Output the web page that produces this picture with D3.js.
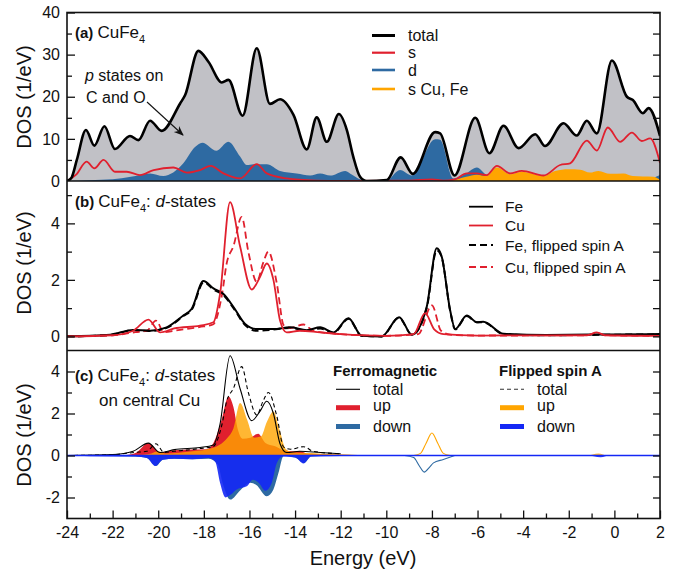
<!DOCTYPE html>
<html lang="en">
<head>
<meta charset="UTF-8">
<title>CuFe4 density of states</title>
<script src="https://d3js.org/d3.v7.min.js"></script>
<style>
  body { margin: 0; background: #fff; }
  svg text { font-family: "Liberation Sans", Arial, Helvetica, sans-serif; fill: #111; }
  .tick text { font-size: 16px; fill: #111; }
  .tick line { stroke: #111; stroke-width: 1.3; }
</style>
</head>
<body>
<div id="chart"></div>
<script>
// ---- axis ticks ----
const energyTicks = [-24, -22, -20, -18, -16, -14, -12, -10, -8, -6, -4, -2, 0, 2];
const energyMinor = [-23, -21, -19, -17, -15, -13, -11, -9, -7, -5, -3, -1, 1];
const aTicks = [0, 10, 20, 30, 40];
const aMinor = [5, 15, 25, 35];
const bTicks = [0, 2, 4];
const bMinor = [1, 3, 5];
const cTicks = [-2, 0, 2, 4];
const cMinor = [-1, 1, 3];

// ---- panel (a): total, s, d, s Cu/Fe  [energy, DOS] ----
const totalA = [[-24,0],[-23.8,0.8],[-23.57,5],[-23.17,12.1],[-22.8,8.4],[-22.36,13],[-21.9,7.6],[-21.24,10.7],[-20.87,9.7],[-20.36,14.3],[-19.85,11.9],[-19.04,18.4],[-18.82,20.4],[-18.24,30.9],[-17.8,28.3],[-17.21,23.4],[-16.92,24],[-16.3,15.5],[-15.68,31.5],[-15.1,18.3],[-14.66,19.4],[-14.07,15.7],[-13.49,7.5],[-13.05,15.1],[-12.61,9.3],[-12.08,15.9],[-11.73,12.1],[-11.45,5.8],[-11.15,1],[-10.86,0],[-9.98,0.2],[-9.37,5.6],[-8.84,1.7],[-7.86,11.6],[-7.64,11.3],[-7.01,1.3],[-6.1,15],[-5.48,6.6],[-4.86,13.1],[-4.2,7.8],[-3.47,11.1],[-3.04,8.3],[-2.23,13.7],[-1.65,10.8],[-1.21,14.3],[-0.77,11.3],[-0.11,28.6],[0.55,20],[0.81,19.2],[1.25,16.1],[1.5,17.3],[2,10.7]];
const sA = [[-24,0],[-23.6,1.5],[-23.14,4.6],[-22.8,3],[-22.4,5],[-21.9,2.2],[-21.38,2.2],[-20.8,1.4],[-20.2,2.6],[-19.34,3.2],[-18.75,2],[-18.17,2.6],[-17.7,3.6],[-17.14,1.8],[-16.41,0.6],[-15.68,4],[-15.24,1.8],[-14.37,0.6],[-13.05,0.1],[-12,0],[-9,0.1],[-8,0.4],[-7.5,0.1],[-7,0.4],[-6.47,1.8],[-6.03,1.8],[-5.6,1.4],[-5.15,3.6],[-4.57,1.8],[-4.06,2.4],[-3.11,1.3],[-2.38,3.8],[-1.94,4.2],[-1.21,9.6],[-0.77,7.2],[-0.29,12.7],[0.25,9.3],[0.77,11.5],[1.2,9.5],[1.57,10.1],[2,4.3]];
const dA = [[-24,0],[-23,0.2],[-22,0.4],[-21.2,1],[-20.36,1.8],[-19.78,1.2],[-18.9,4.2],[-18.4,8],[-18.07,9.1],[-17.44,7.2],[-16.93,9.3],[-16.41,5.8],[-16.12,3.8],[-15.83,4],[-15.24,4],[-14.66,2.4],[-13.93,1.8],[-13.34,1.3],[-12.9,1.8],[-12.46,1.3],[-11.8,2.4],[-11.5,1.5],[-11.15,0.4],[-10.8,0],[-10,0.05],[-9.4,2.6],[-8.88,1.3],[-7.86,9.9],[-7.64,9.8],[-7.06,0.6],[-6.5,1.8],[-6.03,3.2],[-5.6,1.4],[-5,0.6],[-3,0.5],[-1,0.5],[1,0.6],[1.7,0.8],[2,1.4]];
const sCuFeA = [[-24,0],[-8,0],[-7.2,0.1],[-6.5,1],[-6.03,1.5],[-5.6,1.2],[-5.15,3.2],[-4.57,1.6],[-4.06,2.2],[-3.11,1.2],[-2.6,2.4],[-2,2.8],[-1.5,2.7],[-1.07,2],[-0.7,2.4],[-0.19,1.7],[0.4,1.8],[0.8,1.2],[1.7,1],[2,0.3]];

// ---- panel (b): d-states of Fe and Cu ----
const feB = [[-24,0],[-22.1,0.06],[-21.1,0.23],[-20.36,0.2],[-19.63,0.32],[-18.9,0.74],[-18.53,0.98],[-18.02,1.96],[-17.58,1.7],[-17.14,1.5],[-16.7,1.04],[-16.19,0.44],[-15.68,0.26],[-14.95,0.26],[-14.22,0.32],[-13.49,0.22],[-12.9,0.32],[-12.32,0.14],[-11.66,0.64],[-11.08,0.02],[-10.2,0],[-9.44,0.68],[-8.88,0.06],[-8.23,1.04],[-7.79,3.12],[-7.57,2.82],[-7.2,0.92],[-6.98,0.26],[-6.47,0.74],[-6.03,0.5],[-5.75,0.52],[-4.86,0.09],[-3,0.05],[0,0.07],[2,0.08]];
const feFlipB = [[-24,0],[-22.1,0.05],[-21.1,0.22],[-20.36,0.19],[-19.63,0.3],[-18.9,0.72],[-18.53,0.95],[-18,1.92],[-17.58,1.66],[-17.14,1.46],[-16.7,1],[-16.19,0.4],[-15.7,0.2],[-14.95,0.24],[-14.22,0.3],[-13.49,0.2],[-12.9,0.28],[-12.32,0.12],[-11.66,0.62],[-11.08,0.02],[-10.2,0],[-9.44,0.66],[-8.88,0.06],[-8.23,1],[-7.79,3.05],[-7.57,2.8],[-7.2,0.9],[-6.98,0.25],[-6.47,0.72],[-6.03,0.5],[-5.75,0.5],[-4.86,0.08],[-3,0.04],[0,0.06],[2,0.07]];
const cuB = [[-24,0],[-22,0.04],[-21.1,0.2],[-20.43,0.59],[-19.92,0.14],[-19.3,0.28],[-18.17,0.38],[-17.58,0.5],[-17.29,1.5],[-16.85,4.75],[-16.41,3.18],[-15.9,1.66],[-15.54,2.1],[-15.24,2.58],[-14.95,2],[-14.66,0.56],[-14.37,0.14],[-13.8,0.2],[-12.9,0.14],[-12,0.08],[-10,0.02],[-8.8,0.08],[-8.3,0.82],[-7.9,0.25],[-7.5,0.08],[-6,0.03],[-1.2,0.04],[-0.77,0.14],[-0.4,0.04],[2,0.02]];
const cuFlipB = [[-24,0],[-22,0.04],[-21,0.15],[-20.5,0.2],[-20.1,0.56],[-19.75,0.15],[-19.3,0.2],[-18.2,0.33],[-17.6,0.42],[-17.2,1.5],[-17,2.58],[-16.7,3.2],[-16.34,4.23],[-16.05,3],[-15.68,1.93],[-15.4,2.6],[-15.17,3],[-14.8,1.87],[-14.5,0.4],[-14.2,0.3],[-13.63,0.42],[-13.2,0.2],[-12,0.08],[-10,0.02],[-8.6,0.08],[-8,1.1],[-7.6,0.2],[-7.2,0.06],[-6,0.03],[-1.2,0.04],[-0.77,0.12],[-0.4,0.04],[2,0.02]];

// ---- panel (c): spin-resolved d-states on central Cu ----
const upFerro = [[-24,0],[-21.5,0.02],[-21,0.12],[-20.43,0.6],[-19.92,0.15],[-19.3,0.25],[-18.5,0.28],[-17.9,0.3],[-17.58,0.6],[-17.22,1.7],[-16.92,2.81],[-16.7,2.3],[-16.5,1.2],[-16.3,0.8],[-15.97,0.85],[-15.62,1.03],[-15.3,0.6],[-14.9,0.45],[-14.5,0.25],[-14.1,0.2],[-13.8,0.22],[-13.4,0.08],[-12,0.04],[-10,0],[2,0]];
const upFlip = [[-24,0],[-21,0.02],[-20.3,0.1],[-20,0.2],[-19.7,0.1],[-18.5,0.2],[-17.9,0.28],[-17.29,0.52],[-17,0.8],[-16.7,1.3],[-16.41,2.5],[-16.1,1.7],[-15.8,0.85],[-15.5,0.9],[-15.24,1.6],[-14.95,2.1],[-14.7,1.3],[-14.4,0.3],[-14.1,0.15],[-13,0.1],[-12,0.06],[-10.5,0],[-1.2,0],[-0.7,0.1],[-0.3,0],[2,0]];
const downFerro = [[-24,0],[-21,-0.05],[-20.5,-0.12],[-20.1,-0.5],[-19.8,-0.2],[-19.3,-0.15],[-18.5,-0.18],[-17.8,-0.15],[-17.4,-0.4],[-17.15,-1.4],[-16.84,-2.1],[-16.4,-1.65],[-15.97,-1.3],[-15.7,-1.4],[-15.24,-1.94],[-14.95,-1.62],[-14.73,-0.83],[-14.5,-0.02],[-14,-0.1],[-13.6,-0.36],[-13.3,-0.05],[-12,0],[2,0]];
const downFlip = [[-24,0],[-23,-0.03],[-21,-0.05],[-20.5,-0.12],[-20.13,-0.5],[-19.8,-0.2],[-19.3,-0.15],[-18.5,-0.18],[-17.8,-0.12],[-17.5,-0.3],[-17.29,-1.3],[-17.05,-2],[-16.8,-1.85],[-16.56,-1.62],[-16.12,-1.47],[-15.85,-1.15],[-15.6,-1.3],[-15.3,-1.68],[-15.02,-1.3],[-14.8,-0.36],[-14.55,-0.05],[-14,-0.1],[-13.63,-0.38],[-13.3,-0.05],[-12,-0.02],[-10,0],[-1.2,0],[-0.6,-0.08],[-0.2,0],[2,0]];
// small Cu features near -8 eV (drawn as thin lines only)
const upFlipMinor = [[-8.8,0],[-8.5,0.1],[-8.25,0.6],[-8,1.07],[-7.75,0.6],[-7.5,0.1],[-7.2,0]];
const downFerroMinor = [[-9.2,0],[-8.8,-0.1],[-8.55,-0.5],[-8.34,-0.79],[-8.1,-0.55],[-7.93,-0.35],[-7.5,-0.19],[-7,0]];

// ---- layout ----
const W = 689, H = 576;
const X0 = 67, X1 = 660;
const svg = d3.select("#chart").append("svg").attr("width", W).attr("height", H);

const x = d3.scaleLinear().domain([-24, 2]).range([X0, X1]);
const yA = d3.scaleLinear().domain([0, 40]).range([181, 12.5]);
const yB = d3.scaleLinear().domain([-0.5, 5.5]).range([350.5, 181]);
const yC = d3.scaleLinear().domain([-3, 5]).range([518.5, 350.5]);

const colors = {
  gray: "#c1c1c6", red: "#e0202e", steel: "#2e6aa2", orange: "#ffa500", blue: "#1428f5"
};

const curve = d3.curveMonotoneX;
const line = y => d3.line().x(d => x(d[0])).y(d => y(d[1])).curve(curve);
const area = y => d3.area().x(d => x(d[0])).y0(y(0)).y1(d => y(d[1])).curve(curve);

// clip paths for each panel
const defs = svg.append("defs");
[["clipA", yA], ["clipB", yB], ["clipC", yC]].forEach(([id, y]) => {
  const r = y.range();
  defs.append("clipPath").attr("id", id).append("rect")
    .attr("x", X0).attr("y", Math.min(r[0], r[1]))
    .attr("width", X1 - X0).attr("height", Math.abs(r[0] - r[1]));
});
defs.append("marker").attr("id", "arrow")
  .attr("viewBox", "0 0 10 10").attr("refX", 9).attr("refY", 5)
  .attr("markerWidth", 9).attr("markerHeight", 9).attr("orient", "auto")
  .append("path").attr("d", "M0,1 L10,5 L0,9 L3,5 Z").attr("fill", "#111");

// ---- panel (a) ----
const gA = svg.append("g").attr("clip-path", "url(#clipA)");
gA.append("path").datum(totalA).attr("d", area(yA)).attr("fill", colors.gray);
gA.append("path").datum(dA).attr("d", area(yA)).attr("fill", colors.steel);
gA.append("path").datum(sCuFeA).attr("d", area(yA)).attr("fill", colors.orange);
gA.append("path").datum(sA).attr("d", line(yA)).attr("fill", "none")
  .attr("stroke", colors.red).attr("stroke-width", 1.8);
gA.append("path").datum(totalA).attr("d", line(yA)).attr("fill", "none")
  .attr("stroke", "#000").attr("stroke-width", 2.6);

// ---- panel (b) ----
const gB = svg.append("g").attr("clip-path", "url(#clipB)");
[[feFlipB, "#000", "7,4"], [cuFlipB, colors.red, "7,4"], [feB, "#000", null], [cuB, colors.red, null]]
  .forEach(([data, col, dash]) => {
    gB.append("path").datum(data).attr("d", line(yB)).attr("fill", "none")
      .attr("stroke", col).attr("stroke-width", col === "#000" ? 2 : 1.8)
      .attr("stroke-dasharray", dash);
  });

// ---- panel (c) ----
const gC = svg.append("g").attr("clip-path", "url(#clipC)");
gC.append("path").datum(upFerro).attr("d", area(yC)).attr("fill", colors.red);
gC.append("path").datum(upFlip).attr("d", area(yC)).attr("fill", colors.orange).attr("fill-opacity", 0.8);
gC.append("path").datum(downFerro).attr("d", area(yC)).attr("fill", colors.steel);
gC.append("path").datum(downFlip).attr("d", area(yC)).attr("fill", colors.blue).attr("fill-opacity", 0.9);
gC.append("path").datum(upFlipMinor).attr("d", line(yC)).attr("fill", "none")
  .attr("stroke", colors.orange).attr("stroke-width", 1.1);
gC.append("path").datum(downFerroMinor).attr("d", line(yC)).attr("fill", "none")
  .attr("stroke", colors.steel).attr("stroke-width", 1.1);
gC.append("path").datum(cuB.filter(d => d[0] < -10.5)).attr("d", line(yC)).attr("fill", "none")
  .attr("stroke", "#000").attr("stroke-width", 1.1);
gC.append("path").datum(cuFlipB.filter(d => d[0] < -10.5)).attr("d", line(yC)).attr("fill", "none")
  .attr("stroke", "#000").attr("stroke-width", 1.1).attr("stroke-dasharray", "4,3");
gC.append("line").attr("x1", X0).attr("x2", X1).attr("y1", yC(0)).attr("y2", yC(0))
  .attr("stroke", colors.blue).attr("stroke-width", 1.6);

// ---- axes ----
const fmt = d => String(d);
function yAxes(y, major, minor) {
  const l = svg.append("g").attr("transform", `translate(${X0},0)`)
    .call(d3.axisLeft(y).tickValues(major).tickSize(-8).tickPadding(7).tickFormat(fmt));
  l.select(".domain").remove();
  const lm = svg.append("g").attr("transform", `translate(${X0},0)`)
    .call(d3.axisLeft(y).tickValues(minor).tickSize(-5).tickFormat(""));
  lm.select(".domain").remove();
  const r = svg.append("g").attr("transform", `translate(${X1},0)`)
    .call(d3.axisRight(y).tickValues(major.concat(minor)).tickSize(-7).tickFormat(""));
  r.select(".domain").remove();
}
yAxes(yA, aTicks.filter(v => v > 0), aMinor);
yAxes(yB, bTicks, bMinor);
yAxes(yC, cTicks, cMinor);
// the "0" label of panel (a) sits on the a/b border
svg.append("text").attr("x", X0 - 7).attr("y", yA(0) + 5.5)
  .attr("text-anchor", "end").style("font-size", "16px").text("0");

const xb = svg.append("g").attr("transform", `translate(0,${yC.range()[0]})`)
  .call(d3.axisBottom(x).tickValues(energyTicks).tickSize(-8).tickPadding(8).tickFormat(fmt));
xb.select(".domain").remove();
const xbm = svg.append("g").attr("transform", `translate(0,${yC.range()[0]})`)
  .call(d3.axisBottom(x).tickValues(energyMinor).tickSize(-5).tickFormat(""));
xbm.select(".domain").remove();

// frame and panel dividers
svg.append("rect").attr("x", X0).attr("y", 12.5).attr("width", X1 - X0).attr("height", 518.5 - 12.5)
  .attr("fill", "none").attr("stroke", "#111").attr("stroke-width", 1.6);
[181, 350.5].forEach(yy => svg.append("line").attr("x1", X0).attr("x2", X1)
  .attr("y1", yy).attr("y2", yy).attr("stroke", "#111").attr("stroke-width", 1.6));

// axis titles
[[yA, 97], [yB, 263], [yC, 435]].forEach(([y, cy]) => {
  svg.append("text").attr("transform", `translate(31,${cy}) rotate(-90)`)
    .attr("text-anchor", "middle").style("font-size", "20px").text("DOS (1/eV)");
});
svg.append("text").attr("x", 363).attr("y", 565).attr("text-anchor", "middle")
  .style("font-size", "20px").text("Energy (eV)");

// ---- panel labels ----
function panelLabel(tag, y0, suffix) {
  const t = svg.append("text").attr("x", 75).attr("y", y0);
  t.append("tspan").style("font-weight", "bold").style("font-size", "15px").text(tag + " ");
  t.append("tspan").style("font-size", "17px").text("CuFe");
  t.append("tspan").style("font-size", "11px").attr("dy", 5).text("4");
  if (suffix) {
    t.append("tspan").style("font-size", "17px").attr("dy", -5).text(": ");
    t.append("tspan").style("font-size", "17px").style("font-style", "italic").text("d");
    t.append("tspan").style("font-size", "17px").text("-states");
  }
}
panelLabel("(a)", 37.5, false);
panelLabel("(b)", 207, true);
panelLabel("(c)", 381, true);
svg.append("text").attr("x", 99).attr("y", 406).style("font-size", "17px").text("on central Cu");

// annotation in (a)
const ann = svg.append("text").attr("x", 85).attr("y", 81).style("font-size", "16px");
ann.append("tspan").style("font-style", "italic").text("p");
ann.append("tspan").text(" states on");
svg.append("text").attr("x", 86).attr("y", 103).style("font-size", "16px").text("C and O");
svg.append("line").attr("x1", 147).attr("y1", 102).attr("x2", 183).attr("y2", 135)
  .attr("stroke", "#111").attr("stroke-width", 1.1).attr("marker-end", "url(#arrow)");

// ---- legends ----
const legA = [["total", "#000", 3], ["s", colors.red, 2.2], ["d", colors.steel, 2.6], ["s Cu, Fe", colors.orange, 2.6]];
const legAy = [35.5, 52.7, 70, 89];
legA.forEach(([name, col, w], i) => {
  svg.append("line").attr("x1", 372).attr("x2", 395).attr("y1", legAy[i]).attr("y2", legAy[i])
    .attr("stroke", col).attr("stroke-width", w);
  svg.append("text").attr("x", 408).attr("y", legAy[i] + 5.5).style("font-size", "16px").text(name);
});

const legB = [["Fe", "#000", null], ["Cu", colors.red, null], ["Fe, flipped spin A", "#000", "7,4"], ["Cu, flipped spin A", colors.red, "7,4"]];
const legBy = [206.7, 225.5, 245, 267];
legB.forEach(([name, col, dash], i) => {
  svg.append("line").attr("x1", 469).attr("x2", 493).attr("y1", legBy[i]).attr("y2", legBy[i])
    .attr("stroke", col).attr("stroke-width", 1.8).attr("stroke-dasharray", dash);
  svg.append("text").attr("x", 505).attr("y", legBy[i] + 5.5).style("font-size", "15.5px").text(name);
});

const legCy = [389.3, 407.7, 426.5];
const legC = [
  { title: "Ferromagnetic", tx: 333, lx: 336, items: [["total", "#000", 1.1, null], ["up", colors.red, 5, null], ["down", colors.steel, 5, null]] },
  { title: "Flipped spin A", tx: 499, lx: 500, items: [["total", "#333", 1.1, "4,3"], ["up", colors.orange, 5, null], ["down", colors.blue, 5, null]] }
];
legC.forEach(g => {
  svg.append("text").attr("x", g.tx).attr("y", 376).style("font-size", "15px")
    .style("font-weight", "bold").text(g.title);
  g.items.forEach(([name, col, w, dash], i) => {
    svg.append("line").attr("x1", g.lx).attr("x2", g.lx + 24).attr("y1", legCy[i]).attr("y2", legCy[i])
      .attr("stroke", col).attr("stroke-width", w).attr("stroke-dasharray", dash);
    svg.append("text").attr("x", g.lx + 37).attr("y", legCy[i] + (i === 1 ? 3 : 5.5))
      .style("font-size", "16px").text(name);
  });
});
</script>
</body>
</html>
